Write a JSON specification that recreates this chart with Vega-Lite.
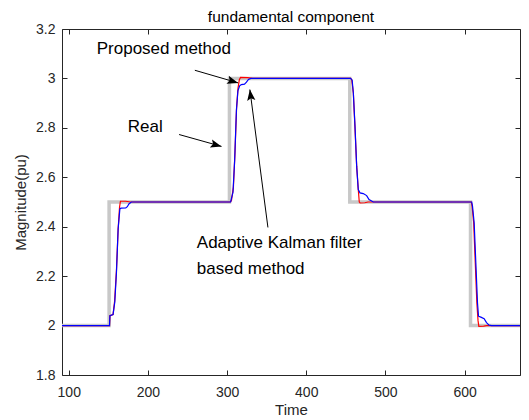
{
  "$schema": "https://vega.github.io/schema/vega-lite/v6.json",
  "width": 458,
  "height": 346,
  "autosize": {"type": "none"},
  "padding": {"left": 62, "top": 29, "right": 9, "bottom": 45},
  "background": "white",
  "config": {
    "view": {"stroke": null},
    "font": "Liberation Sans",
    "axis": {
      "grid": false,
      "domainColor": "#262626",
      "tickColor": "#262626",
      "labelColor": "#262626",
      "titleColor": "#262626",
      "labelFont": "Liberation Sans",
      "titleFont": "Liberation Sans",
      "labelFontSize": 14,
      "titleFontSize": 15,
      "titleFontWeight": "normal",
      "tickSize": -5,
      "domainWidth": 1,
      "tickWidth": 1
    }
  },
  "title": {
    "text": "fundamental component",
    "fontSize": 15.5,
    "fontWeight": "normal",
    "font": "Liberation Sans",
    "color": "#000000",
    "offset": -3
  },
  "datasets": {
    "series": [
      {"Time": 90, "Magnitude": 2.0, "series": "Real"},
      {"Time": 151, "Magnitude": 2.0, "series": "Real"},
      {"Time": 151, "Magnitude": 2.5, "series": "Real"},
      {"Time": 303, "Magnitude": 2.5, "series": "Real"},
      {"Time": 303, "Magnitude": 3.0, "series": "Real"},
      {"Time": 455, "Magnitude": 3.0, "series": "Real"},
      {"Time": 455, "Magnitude": 2.5, "series": "Real"},
      {"Time": 607.5, "Magnitude": 2.5, "series": "Real"},
      {"Time": 607.5, "Magnitude": 2.0, "series": "Real"},
      {"Time": 675, "Magnitude": 2.0, "series": "Real"},

      {"Time": 90, "Magnitude": 2.0, "series": "Proposed"},
      {"Time": 151.5, "Magnitude": 2.0, "series": "Proposed"},
      {"Time": 152, "Magnitude": 2.04, "series": "Proposed"},
      {"Time": 156, "Magnitude": 2.045, "series": "Proposed"},
      {"Time": 158, "Magnitude": 2.1, "series": "Proposed"},
      {"Time": 160.3, "Magnitude": 2.225, "series": "Proposed"},
      {"Time": 162.4, "Magnitude": 2.39, "series": "Proposed"},
      {"Time": 164.2, "Magnitude": 2.48, "series": "Proposed"},
      {"Time": 165.3, "Magnitude": 2.503, "series": "Proposed"},
      {"Time": 172, "Magnitude": 2.503, "series": "Proposed"},
      {"Time": 178, "Magnitude": 2.5, "series": "Proposed"},
      {"Time": 304, "Magnitude": 2.5, "series": "Proposed"},
      {"Time": 305.5, "Magnitude": 2.505, "series": "Proposed"},
      {"Time": 308, "Magnitude": 2.56, "series": "Proposed"},
      {"Time": 310, "Magnitude": 2.7, "series": "Proposed"},
      {"Time": 312, "Magnitude": 2.88, "series": "Proposed"},
      {"Time": 313.8, "Magnitude": 2.96, "series": "Proposed"},
      {"Time": 315.5, "Magnitude": 2.995, "series": "Proposed"},
      {"Time": 317, "Magnitude": 3.004, "series": "Proposed"},
      {"Time": 326, "Magnitude": 3.003, "series": "Proposed"},
      {"Time": 332, "Magnitude": 3.0, "series": "Proposed"},
      {"Time": 456, "Magnitude": 3.0, "series": "Proposed"},
      {"Time": 457.5, "Magnitude": 2.995, "series": "Proposed"},
      {"Time": 459.5, "Magnitude": 2.94, "series": "Proposed"},
      {"Time": 461.5, "Magnitude": 2.805, "series": "Proposed"},
      {"Time": 463.7, "Magnitude": 2.645, "series": "Proposed"},
      {"Time": 465.5, "Magnitude": 2.56, "series": "Proposed"},
      {"Time": 467, "Magnitude": 2.5, "series": "Proposed"},
      {"Time": 468, "Magnitude": 2.496, "series": "Proposed"},
      {"Time": 474, "Magnitude": 2.497, "series": "Proposed"},
      {"Time": 478, "Magnitude": 2.5, "series": "Proposed"},
      {"Time": 608.5, "Magnitude": 2.5, "series": "Proposed"},
      {"Time": 609.5, "Magnitude": 2.483, "series": "Proposed"},
      {"Time": 611.5, "Magnitude": 2.416, "series": "Proposed"},
      {"Time": 613.5, "Magnitude": 2.254, "series": "Proposed"},
      {"Time": 615.5, "Magnitude": 2.092, "series": "Proposed"},
      {"Time": 617, "Magnitude": 2.02, "series": "Proposed"},
      {"Time": 618, "Magnitude": 1.997, "series": "Proposed"},
      {"Time": 624, "Magnitude": 1.998, "series": "Proposed"},
      {"Time": 628, "Magnitude": 2.0, "series": "Proposed"},
      {"Time": 675, "Magnitude": 2.0, "series": "Proposed"},

      {"Time": 90, "Magnitude": 2.0, "series": "Kalman"},
      {"Time": 151.5, "Magnitude": 2.0, "series": "Kalman"},
      {"Time": 152, "Magnitude": 2.04, "series": "Kalman"},
      {"Time": 156, "Magnitude": 2.045, "series": "Kalman"},
      {"Time": 158.2, "Magnitude": 2.096, "series": "Kalman"},
      {"Time": 160.3, "Magnitude": 2.217, "series": "Kalman"},
      {"Time": 162.4, "Magnitude": 2.391, "series": "Kalman"},
      {"Time": 164.6, "Magnitude": 2.472, "series": "Kalman"},
      {"Time": 166, "Magnitude": 2.475, "series": "Kalman"},
      {"Time": 172, "Magnitude": 2.476, "series": "Kalman"},
      {"Time": 174, "Magnitude": 2.481, "series": "Kalman"},
      {"Time": 176, "Magnitude": 2.492, "series": "Kalman"},
      {"Time": 179, "Magnitude": 2.5, "series": "Kalman"},
      {"Time": 304.5, "Magnitude": 2.5, "series": "Kalman"},
      {"Time": 307.5, "Magnitude": 2.54, "series": "Kalman"},
      {"Time": 309.6, "Magnitude": 2.67, "series": "Kalman"},
      {"Time": 311.8, "Magnitude": 2.87, "series": "Kalman"},
      {"Time": 313.7, "Magnitude": 2.95, "series": "Kalman"},
      {"Time": 315.9, "Magnitude": 2.97, "series": "Kalman"},
      {"Time": 318, "Magnitude": 2.975, "series": "Kalman"},
      {"Time": 322, "Magnitude": 2.977, "series": "Kalman"},
      {"Time": 324.5, "Magnitude": 2.985, "series": "Kalman"},
      {"Time": 327, "Magnitude": 2.996, "series": "Kalman"},
      {"Time": 330, "Magnitude": 3.0, "series": "Kalman"},
      {"Time": 456, "Magnitude": 3.0, "series": "Kalman"},
      {"Time": 458, "Magnitude": 2.993, "series": "Kalman"},
      {"Time": 459.5, "Magnitude": 2.941, "series": "Kalman"},
      {"Time": 461.6, "Magnitude": 2.806, "series": "Kalman"},
      {"Time": 463.7, "Magnitude": 2.645, "series": "Kalman"},
      {"Time": 465.7, "Magnitude": 2.55, "series": "Kalman"},
      {"Time": 467.9, "Magnitude": 2.537, "series": "Kalman"},
      {"Time": 472, "Magnitude": 2.534, "series": "Kalman"},
      {"Time": 476.3, "Magnitude": 2.526, "series": "Kalman"},
      {"Time": 479.3, "Magnitude": 2.51, "series": "Kalman"},
      {"Time": 484.7, "Magnitude": 2.5, "series": "Kalman"},
      {"Time": 609, "Magnitude": 2.5, "series": "Kalman"},
      {"Time": 610, "Magnitude": 2.483, "series": "Kalman"},
      {"Time": 612.1, "Magnitude": 2.416, "series": "Kalman"},
      {"Time": 614.2, "Magnitude": 2.254, "series": "Kalman"},
      {"Time": 616.3, "Magnitude": 2.092, "series": "Kalman"},
      {"Time": 617.6, "Magnitude": 2.038, "series": "Kalman"},
      {"Time": 620.5, "Magnitude": 2.034, "series": "Kalman"},
      {"Time": 624.7, "Magnitude": 2.028, "series": "Kalman"},
      {"Time": 627.7, "Magnitude": 2.012, "series": "Kalman"},
      {"Time": 631, "Magnitude": 2.002, "series": "Kalman"},
      {"Time": 634, "Magnitude": 2.0, "series": "Kalman"},
      {"Time": 675, "Magnitude": 2.0, "series": "Kalman"}
    ],
    "labels": [
      {"Time": 135.4, "Magnitude": 3.12, "label": "Proposed method"},
      {"Time": 174.6, "Magnitude": 2.803, "label": "Real"},
      {"Time": 261.8, "Magnitude": 2.336, "label": "Adaptive Kalman filter"},
      {"Time": 261.8, "Magnitude": 2.227, "label": "based method"}
    ],
    "arrows": [
      {"name": "Real", "Time": 239.4, "Magnitude": 2.773, "Time2": 293.0, "Magnitude2": 2.725},
      {"name": "Proposed", "Time": 259.3, "Magnitude": 3.033, "Time2": 314.0, "Magnitude2": 2.982},
      {"name": "Kalman", "Time": 351.6, "Magnitude": 2.397, "Time2": 328.8, "Magnitude2": 2.955}
    ]
  },
  "resolve": {"axis": {"x": "independent", "y": "independent"}},
  "layer": [
    {
      "data": {"name": "series"},
      "transform": [{"filter": "datum.series === 'Real'"}],
      "mark": {"type": "line", "color": "#c8c8c8", "strokeWidth": 3.5, "clip": true},
      "encoding": {
        "x": {"field": "Time", "type": "quantitative",
              "scale": {"domain": [91.5, 670], "nice": false, "zero": false},
              "axis": {"orient": "bottom", "values": [100, 200, 300, 400, 500, 600], "title": "Time", "labelPadding": 15, "titlePadding": 3}},
        "y": {"field": "Magnitude", "type": "quantitative",
              "scale": {"domain": [1.8, 3.2], "nice": false, "zero": false},
              "axis": {"orient": "left", "values": [1.8, 2.0, 2.2, 2.4, 2.6, 2.8, 3.0, 3.2], "format": "~g", "title": "Magnitude(pu)", "labelPadding": 12, "titlePadding": 7}}
      }
    },
    {
      "data": {"name": "series"},
      "transform": [{"filter": "datum.series === 'Proposed'"}],
      "mark": {"type": "line", "color": "#ff0000", "strokeWidth": 1.2, "clip": true},
      "encoding": {
        "x": {"field": "Time", "type": "quantitative",
              "axis": {"orient": "top", "values": [100, 200, 300, 400, 500, 600], "labels": false, "title": null}},
        "y": {"field": "Magnitude", "type": "quantitative",
              "axis": {"orient": "right", "values": [1.8, 2.0, 2.2, 2.4, 2.6, 2.8, 3.0, 3.2], "labels": false, "title": null}}
      }
    },
    {
      "data": {"name": "series"},
      "transform": [{"filter": "datum.series === 'Kalman'"}],
      "mark": {"type": "line", "color": "#0000ff", "strokeWidth": 1.2, "clip": true},
      "encoding": {
        "x": {"field": "Time", "type": "quantitative", "axis": null},
        "y": {"field": "Magnitude", "type": "quantitative", "axis": null}
      }
    },
    {
      "data": {"name": "labels"},
      "mark": {"type": "text", "align": "left", "baseline": "middle", "fontSize": 17, "font": "Liberation Sans", "color": "#000000"},
      "encoding": {
        "x": {"field": "Time", "type": "quantitative", "axis": null},
        "y": {"field": "Magnitude", "type": "quantitative", "axis": null},
        "text": {"field": "label"}
      }
    },
    {
      "data": {"name": "arrows"},
      "mark": {"type": "rule", "color": "#000000", "strokeWidth": 1},
      "encoding": {
        "x": {"field": "Time", "type": "quantitative", "axis": null},
        "y": {"field": "Magnitude", "type": "quantitative", "axis": null},
        "x2": {"field": "Time2"},
        "y2": {"field": "Magnitude2"}
      }
    },
    {
      "data": {"name": "arrows"},
      "transform": [{"filter": "datum.name === 'Real'"}],
      "mark": {"type": "point", "shape": "M0,0L-0.75,2L0,1.6L0.75,2Z", "filled": true, "color": "#000000", "opacity": 1, "size": 121, "angle": 105.4},
      "encoding": {
        "x": {"field": "Time2", "type": "quantitative", "axis": null},
        "y": {"field": "Magnitude2", "type": "quantitative", "axis": null}
      }
    },
    {
      "data": {"name": "arrows"},
      "transform": [{"filter": "datum.name === 'Proposed'"}],
      "mark": {"type": "point", "shape": "M0,0L-0.75,2L0,1.6L0.75,2Z", "filled": true, "color": "#000000", "opacity": 1, "size": 121, "angle": 106.2},
      "encoding": {
        "x": {"field": "Time2", "type": "quantitative", "axis": null},
        "y": {"field": "Magnitude2", "type": "quantitative", "axis": null}
      }
    },
    {
      "data": {"name": "arrows"},
      "transform": [{"filter": "datum.name === 'Kalman'"}],
      "mark": {"type": "point", "shape": "M0,0L-0.75,2L0,1.6L0.75,2Z", "filled": true, "color": "#000000", "opacity": 1, "size": 121, "angle": 352.6},
      "encoding": {
        "x": {"field": "Time2", "type": "quantitative", "axis": null},
        "y": {"field": "Magnitude2", "type": "quantitative", "axis": null}
      }
    }
  ]
}
